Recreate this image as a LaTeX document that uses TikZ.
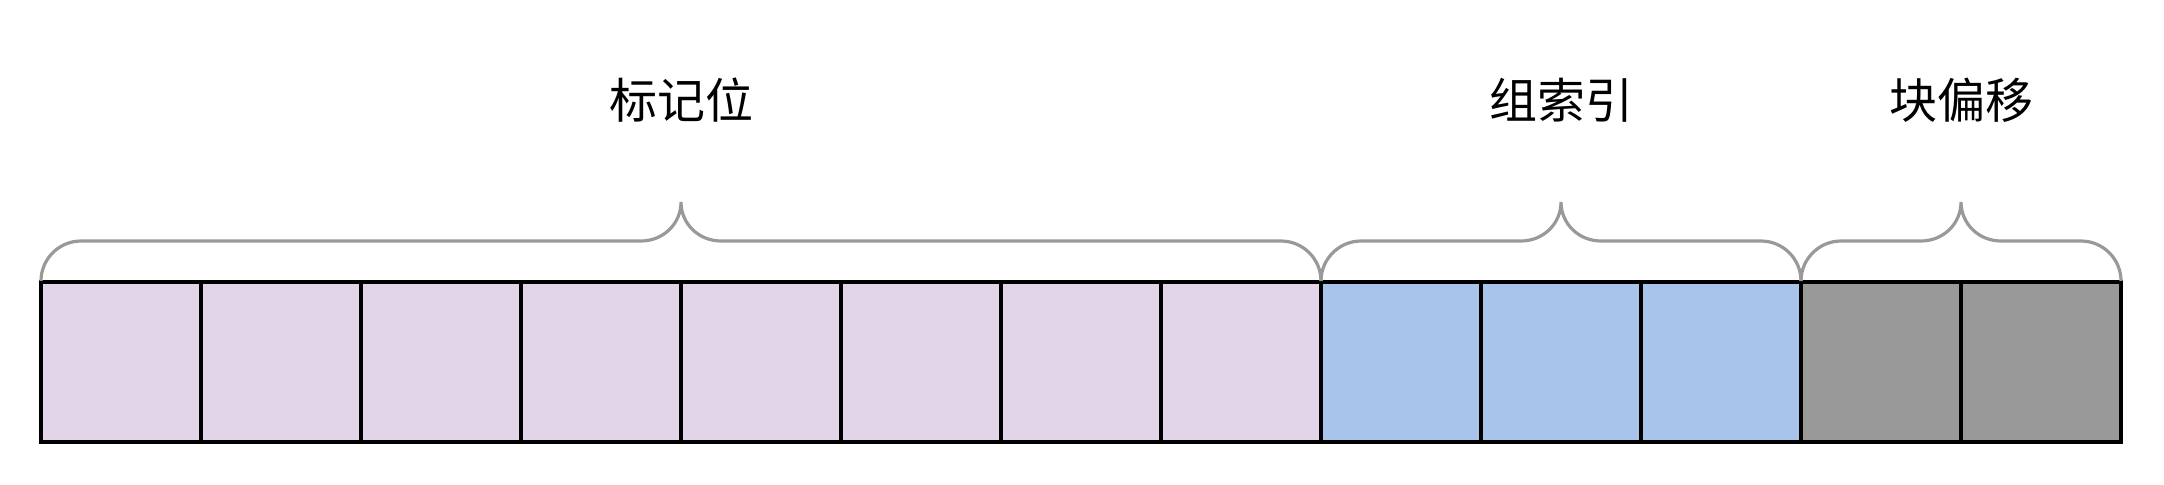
\documentclass[tikz,border=0pt]{standalone}
\usepackage{fontspec}
\newfontfamily\cjk{Noto Sans CJK SC}
\definecolor{tagc}{HTML}{E1D5E7}
\definecolor{idxc}{HTML}{A9C4EB}
\definecolor{offc}{HTML}{999999}
\definecolor{brcc}{HTML}{999999}
\tikzset{
  cell/.style={draw=black, line width=2pt, minimum width=80pt, minimum height=80pt, inner sep=0pt, outer sep=0pt},
  brc/.style={draw=brcc, line width=1.6pt},
  lbl/.style={font=\cjk\fontsize{24}{28}\selectfont, text=black, inner sep=0pt}
}
\newcommand\mybrace[3]{%
  \draw[brc] (#1,281) .. controls (#1,259) and ({#1+18},241) .. ({#1+40},241)
    -- ({#3-40},241) .. controls ({#3-18},241) and (#3,224) .. (#3,202)
    .. controls (#3,224) and ({#3+18},241) .. ({#3+40},241)
    -- ({#2-40},241) .. controls ({#2-18},241) and (#2,259) .. (#2,281);}
\begin{document}
\begin{tikzpicture}[x=0.5pt,y=-0.5pt]
\useasboundingbox (0,0) rectangle (2164,484);
\foreach \i in {0,...,7} {
  \node[cell, fill=tagc] (c\i) at ({121+160*\i},361.7) {};
}
\foreach \i in {8,9,10} {
  \node[cell, fill=idxc] (c\i) at ({121+160*\i},361.7) {};
}
\foreach \i in {11,12} {
  \node[cell, fill=offc] (c\i) at ({121+160*\i},361.7) {};
}
\mybrace{41}{1321}{681}
\mybrace{1321}{1801}{1561}
\mybrace{1801}{2121}{1961}
\node[lbl] (t1) at (681,100) {标记位};
\node[lbl] (t2) at (1561,100) {组索引};
\node[lbl] (t3) at (1961,100) {块偏移};
\end{tikzpicture}
\end{document}
